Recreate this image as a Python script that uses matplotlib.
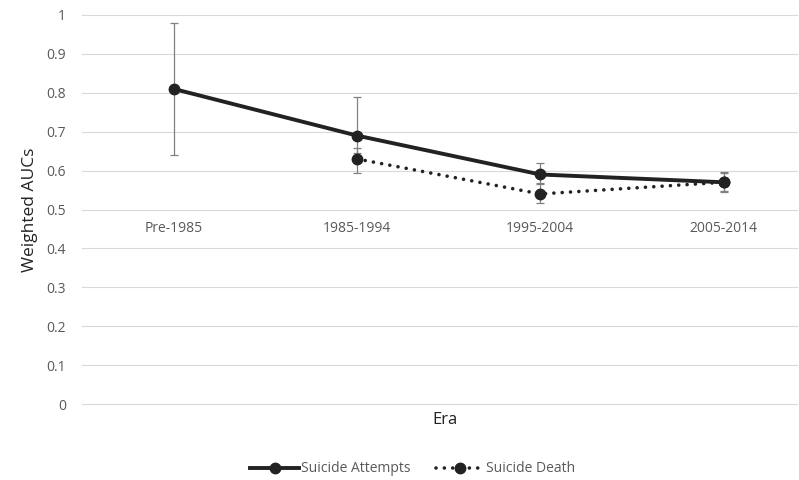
import numpy as np
import matplotlib.pyplot as plt

# === Данные ===
eras = ['Pre-1985', '1985-1994', '1995-2004', '2005-2014']
attempts = [0.81, 0.69, 0.59, 0.57]
attempts_lo = [0.64, 0.645, 0.567, 0.545]
attempts_hi = [0.98, 0.79, 0.62, 0.596]
death = [np.nan, 0.63, 0.54, 0.57]
death_lo = [np.nan, 0.594, 0.517, 0.548]
death_hi = [np.nan, 0.658, 0.565, 0.593]
yticks = [0, 0.1, 0.2, 0.3, 0.4, 0.5, 0.6, 0.7, 0.8, 0.9, 1]
ytick_labels = ['0', '0.1', '0.2', '0.3', '0.4', '0.5', '0.6', '0.7', '0.8', '0.9', '1']

plt.rcParams['font.family'] = ['Open Sans', 'DejaVu Sans']

x = np.arange(len(eras))
att = np.array(attempts)
dth = np.array(death)

fig = plt.figure(figsize=(7.99, 4.8), dpi=100)
ax = fig.add_axes([82 / 799, 76 / 480, 715 / 799, 389 / 480])

# сетка
for t in yticks:
    ax.axhline(t, color='#d9d9d9', lw=0.8, zorder=0, clip_on=False)

# планки погрешностей
ax.errorbar(x, att, yerr=[att - np.array(attempts_lo), np.array(attempts_hi) - att],
            fmt='none', ecolor='#808080', elinewidth=0.9, capsize=3, capthick=0.9, zorder=2)
ax.errorbar(x, dth, yerr=[dth - np.array(death_lo), np.array(death_hi) - dth],
            fmt='none', ecolor='#808080', elinewidth=0.9, capsize=3, capthick=0.9, zorder=2)

# линии
ax.plot(x, att, color='#222222', lw=2.8, marker='o', markersize=7.5,
        label='Suicide Attempts', zorder=3)
ax.plot(x, dth, color='#222222', lw=2.6, ls=(0, (0.01, 2.3)), dash_capstyle='round',
        marker='o', markersize=7.5, label='Suicide Death', zorder=3)

# подписи категорий внутри области графика
for i, e in enumerate(eras):
    ax.text(i, 0.45, e, ha='center', va='center', color='#595959', fontsize=10)

ax.set_xlim(-0.5, 3.4)
ax.set_ylim(0, 1)
ax.set_yticks(yticks)
ax.set_yticklabels(ytick_labels)
ax.set_xticks([])
ax.tick_params(axis='y', colors='#595959', labelsize=10, length=0, pad=11.5)
for s in ax.spines.values():
    s.set_visible(False)

ax.set_ylabel('Weighted AUCs', fontsize=12.5, color='#222222', labelpad=6)
fig.text(445 / 799, 1 - 420 / 480, 'Era', ha='center', va='center', fontsize=12, color='#222222')

leg = fig.legend(loc='center', bbox_to_anchor=(413 / 799, 1 - 469 / 480), ncol=2,
                 frameon=False, fontsize=10, handlelength=3.5, columnspacing=1.8,
                 handletextpad=0.15)
for t in leg.get_texts():
    t.set_color('#595959')

fig.savefig('out.png', dpi=100)
